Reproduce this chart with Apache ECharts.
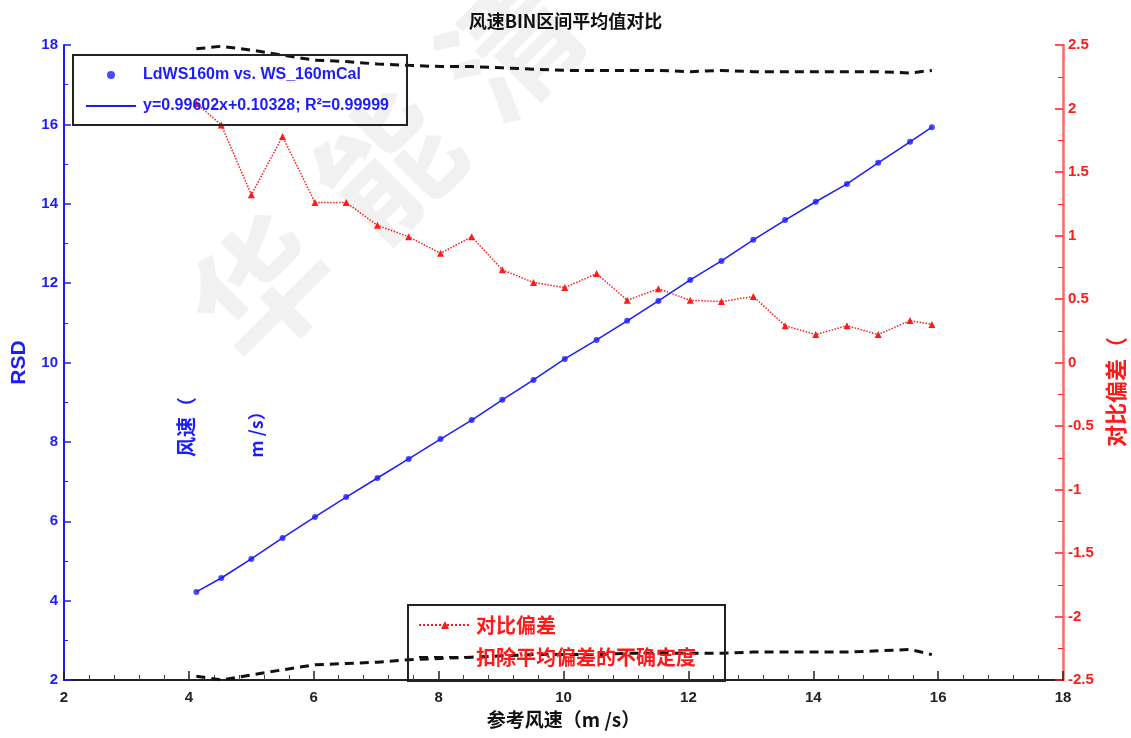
<!DOCTYPE html>
<html>
<head>
<meta charset="utf-8">
<script src="https://cdn.jsdelivr.net/npm/echarts@6/dist/echarts.min.js"></script>
<style>html,body{margin:0;padding:0;background:#fff}#c{width:1131px;height:738px}</style>
</head>
<body>
<div id="c"></div>
<script>
// Reference wind speed (bin centres)
const refWs = [4.12, 4.52, 5.0, 5.5, 6.02, 6.52, 7.02, 7.52, 8.03, 8.53, 9.02, 9.52, 10.02, 10.53, 11.02, 11.52, 12.03, 12.53, 13.04, 13.55, 14.04, 14.54, 15.04, 15.55, 15.9];
// LdWS160m mean per bin (left axis)
const ldWs = [4.22, 4.57, 5.05, 5.58, 6.11, 6.61, 7.09, 7.57, 8.07, 8.55, 9.06, 9.56, 10.09, 10.57, 11.05, 11.55, 12.08, 12.56, 13.09, 13.59, 14.05, 14.50, 15.03, 15.56, 15.93];
// comparison deviation (right axis)
const deviation = [2.04, 1.87, 1.32, 1.78, 1.26, 1.26, 1.08, 0.99, 0.86, 0.99, 0.73, 0.63, 0.59, 0.70, 0.49, 0.58, 0.49, 0.48, 0.52, 0.29, 0.22, 0.29, 0.22, 0.33, 0.30];
// uncertainty band after removing mean deviation (right axis)
const uncUpper = [2.47, 2.49, 2.46, 2.42, 2.38, 2.37, 2.35, 2.34, 2.33, 2.33, 2.32, 2.31, 2.30, 2.30, 2.30, 2.30, 2.29, 2.30, 2.29, 2.29, 2.29, 2.29, 2.29, 2.28, 2.30];
const uncLower = [-2.47, -2.50, -2.46, -2.42, -2.38, -2.37, -2.36, -2.34, -2.33, -2.32, -2.31, -2.30, -2.30, -2.30, -2.29, -2.29, -2.29, -2.29, -2.28, -2.28, -2.28, -2.28, -2.27, -2.26, -2.30];

const xTicks = {min: 2, max: 18, interval: 2};
const yLeftTicks = {min: 2, max: 18, interval: 2};
const yRightTicks = {min: -2.5, max: 2.5, interval: 0.5};

const nameScatter = 'LdWS160m vs. WS_160mCal';
const nameFit = 'y=0.99602x+0.10328; R\u00B2=0.99999';
const nameDev = '对比偏差';
const nameUnc = '扣除平均偏差的不确定度';
const watermarkChars = ['华', '能', '清'];

const pair = (xs, ys) => xs.map((x, i) => [x, ys[i]]);

const BLUE = '#1c1cff', RED = '#ff1a1a';
const font = '"Liberation Sans", Arial, sans-serif';
const cjk = '"Noto Sans CJK SC", sans-serif';

const wmPos = [[262, 288], [388, 165], [510, 45]];
const watermark = watermarkChars.map((ch, i) => ({
  type: 'text', z: -10, x: wmPos[i][0], y: wmPos[i][1], rotation: Math.PI / 4,
  style: {text: ch, font: 'bold 135px "Noto Sans CJK SC"', fill: '#f1f1f1', align: 'center', verticalAlign: 'middle'}
}));

const chart = echarts.init(document.getElementById('c'), null, {renderer: 'canvas'});
chart.setOption({
  animation: false,
  backgroundColor: '#fff',
  title: {
    text: '风速BIN区间平均值对比', left: 'center', top: 7,
    textStyle: {fontSize: 18, fontWeight: 'bold', color: '#111', fontFamily: cjk}
  },
  grid: {left: 64, right: 68, top: 45, bottom: 58},
  graphic: watermark.concat([
    {type: 'text', x: 186, y: 427, rotation: Math.PI / 2,
     style: {text: '风速（', font: 'bold 20px "Noto Sans CJK SC"', fill: BLUE, align: 'center', verticalAlign: 'middle'}},
    {type: 'text', x: 256, y: 430, rotation: Math.PI / 2,
     style: {text: 'm /s）', font: 'bold 18px "Noto Sans CJK SC"', fill: BLUE, align: 'center', verticalAlign: 'middle'}},
    {type: 'text', x: 1116, y: 392, rotation: Math.PI / 2,
     style: {text: '对比偏差（', font: 'bold 22px "Noto Sans CJK SC"', fill: RED, align: 'center', verticalAlign: 'middle'}}
  ]),
  legend: [
    {
      data: [{name: nameScatter, icon: 'circle'}, {name: nameFit, itemStyle: {opacity: 0}}],
      orient: 'vertical', left: 73, top: 55,
      padding: [12, 18, 11, 12], itemGap: 15, itemWidth: 50, itemHeight: 8,
      borderColor: '#222', borderWidth: 2, backgroundColor: 'transparent',
      textStyle: {color: BLUE, fontSize: 16, fontWeight: 'bold', fontFamily: font, padding: [0, 0, 0, 2]}
    },
    {
      data: [nameDev, {name: nameUnc, itemStyle: {opacity: 0}}],
      orient: 'vertical', left: 408, top: 605,
      padding: [10, 29, 14, 10], itemGap: 12, itemWidth: 52, itemHeight: 10,
      borderColor: '#222', borderWidth: 2, backgroundColor: 'transparent',
      textStyle: {color: RED, fontSize: 20, fontWeight: 'bold', fontFamily: cjk}
    }
  ],
  xAxis: {
    type: 'value', min: xTicks.min, max: xTicks.max, interval: xTicks.interval,
    name: '参考风速（m /s）', nameLocation: 'middle', nameGap: 30,
    nameTextStyle: {fontSize: 19, fontWeight: 'bold', color: '#111', fontFamily: cjk},
    axisLine: {show: true, onZero: false, lineStyle: {color: '#222', width: 2}},
    axisTick: {show: true, inside: true, length: 9, lineStyle: {color: '#222', width: 1.5}},
    minorTick: {show: true, splitNumber: 5, length: 5, lineStyle: {color: '#444'}},
    axisLabel: {color: '#222', fontSize: 15, fontWeight: 'bold', fontFamily: font, margin: 10},
    splitLine: {show: false}
  },
  yAxis: [
    {
      type: 'value', position: 'left', min: yLeftTicks.min, max: yLeftTicks.max, interval: yLeftTicks.interval,
      name: 'RSD', nameLocation: 'middle', nameGap: 34,
      nameTextStyle: {fontSize: 21, fontWeight: 'bold', color: BLUE, fontFamily: font},
      axisLine: {show: true, onZero: false, lineStyle: {color: BLUE, width: 2}},
      axisTick: {show: true, inside: true, length: 7, lineStyle: {color: BLUE, width: 1.5}},
      minorTick: {show: true, splitNumber: 2, length: 4, lineStyle: {color: BLUE}},
      axisLabel: {color: BLUE, fontSize: 15, fontWeight: 'bold', fontFamily: font, margin: 6},
      splitLine: {show: false}
    },
    {
      type: 'value', position: 'right', min: yRightTicks.min, max: yRightTicks.max, interval: yRightTicks.interval,
      axisLine: {show: true, onZero: false, lineStyle: {color: '#ff6666', width: 2.5}},
      axisTick: {show: true, inside: true, length: 8, lineStyle: {color: RED, width: 1.5}},
      minorTick: {show: true, splitNumber: 2, length: 5, lineStyle: {color: RED}},
      axisLabel: {color: RED, fontSize: 15, fontWeight: 'bold', fontFamily: font, margin: 5},
      splitLine: {show: false}
    }
  ],
  series: [
    {
      name: nameUnc, type: 'line', yAxisIndex: 1, data: pair(refWs, uncUpper),
      symbol: 'none', lineStyle: {color: '#111', width: 3, type: [9, 6]}, itemStyle: {color: '#111'}, z: 2
    },
    {
      name: nameUnc, type: 'line', yAxisIndex: 1, data: pair(refWs, uncLower),
      symbol: 'none', lineStyle: {color: '#111', width: 3, type: [9, 6]}, itemStyle: {color: '#111'}, z: 2
    },
    {
      name: nameDev, type: 'line', yAxisIndex: 1, data: pair(refWs, deviation),
      symbol: 'triangle', symbolSize: 7, showSymbol: true,
      lineStyle: {color: RED, width: 1.5, type: 'dotted'}, itemStyle: {color: RED}, z: 3
    },
    {
      name: nameFit, type: 'line', yAxisIndex: 0, data: pair(refWs, ldWs),
      symbol: 'none', lineStyle: {color: BLUE, width: 1.5}, itemStyle: {color: BLUE}, z: 4
    },
    {
      name: nameScatter, type: 'scatter', yAxisIndex: 0, data: pair(refWs, ldWs),
      symbol: 'circle', symbolSize: 6, itemStyle: {color: BLUE}, z: 5
    }
  ]
});
</script>
</body>
</html>
